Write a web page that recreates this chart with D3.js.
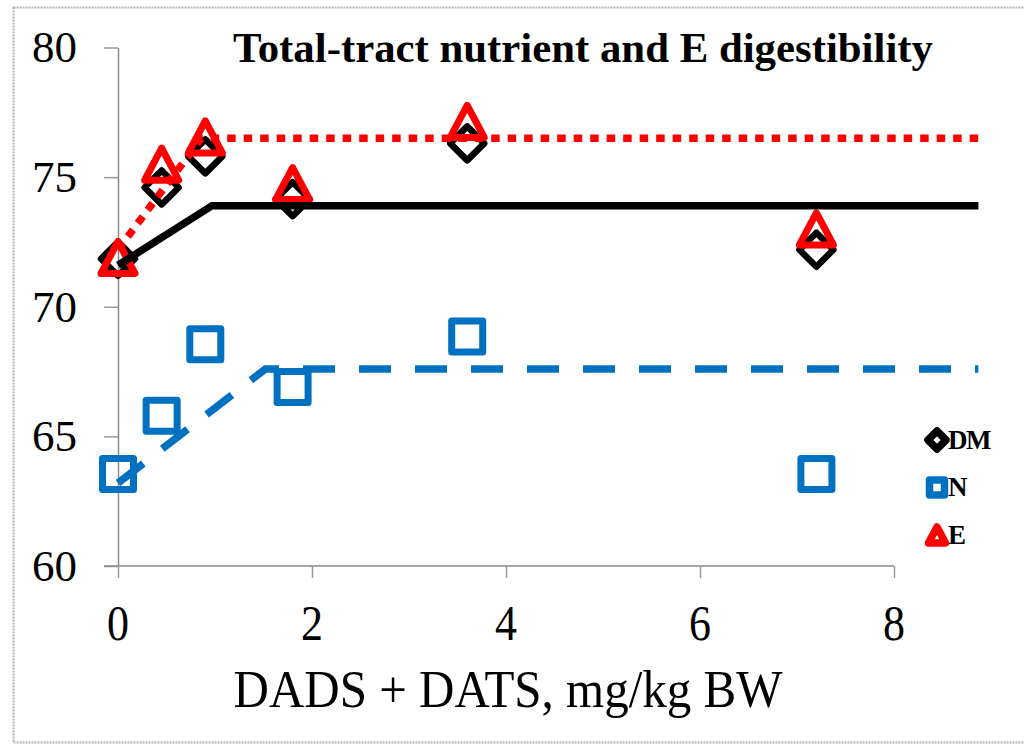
<!DOCTYPE html>
<html>
<head>
<meta charset="utf-8">
<script src="https://cdn.jsdelivr.net/npm/d3@7/dist/d3.min.js"></script>
<style>
  html, body { margin: 0; padding: 0; background: #fff; }
  svg { display: block; }
  text { font-family: "Liberation Serif", "Times New Roman", serif; fill: #000; }
</style>
</head>
<body>
<svg id="chart" width="1024" height="744"></svg>
<script>
// Dose of DADS + DATS (mg/kg BW)
const doses = [0, 0.45, 0.9, 1.8, 3.6, 7.2];
// Apparent total-tract digestibility, %
const dmValues = [71.85, 74.6, 75.8, 74.15, 76.3, 72.2];
const nValues  = [63.55, 65.8, 68.55, 66.9, 68.85, 63.55];
const eValues  = [71.9, 75.5, 76.55, 74.75, 77.15, 73.0];

// Broken-line fits: [dose, value] at start, breakpoint, end
const dmFit = [[0, 71.6], [0.97, 73.9], [8.87, 73.9]];
const nFit  = [[0, 63.2], [1.52, 67.6], [8.87, 67.6]];
const eFit  = [[0, 72.2], [0.86, 76.5], [8.87, 76.5]];

const xTicks = [0, 2, 4, 6, 8];
const yTicks = [60, 65, 70, 75, 80];

const legendItems = ["DM", "N", "E"];

const BLUE = "#0070C0", RED = "#FF0000", BLACK = "#000000";

const svg = d3.select("#chart");

// outer dotted frame
svg.append("rect")
  .attr("x", 13.5).attr("y", 7.5).attr("width", 1030).attr("height", 735)
  .attr("fill", "none").attr("stroke", "#b5b5b5").attr("stroke-width", 2)
  .attr("stroke-dasharray", "2,1");

const x = d3.scaleLinear().domain([0, 8]).range([118, 894]);
const y = d3.scaleLinear().domain([60, 80]).range([566, 47.5]);

// y axis
const yAxis = svg.append("g")
  .attr("transform", `translate(${x(0)},0)`)
  .call(d3.axisLeft(y).tickValues(yTicks).tickSize(14).tickPadding(27).tickSizeOuter(0));
yAxis.select(".domain").attr("stroke", "#8a8a8a").attr("stroke-width", 1.5);
yAxis.selectAll(".tick line").attr("stroke", "#9a9a9a").attr("stroke-width", 1.5);
yAxis.selectAll(".tick text")
  .style("font-family", "'Liberation Serif', serif")
  .style("font-size", "45px").attr("fill", "#000");

// x axis
const xAxis = svg.append("g")
  .attr("transform", `translate(0,${y(60)})`)
  .call(d3.axisBottom(x).tickValues(xTicks).tickSize(12).tickFormat("").tickSizeOuter(0));
xAxis.select(".domain").attr("stroke", "#8a8a8a").attr("stroke-width", 1.5)
  .attr("d", `M${x(0) - 14},0H${x(8)}`);
xAxis.selectAll(".tick line").attr("stroke", "#9a9a9a").attr("stroke-width", 1.5);

// x tick labels (slightly tall serif digits)
svg.append("g").selectAll("g")
  .data(xTicks).join("g")
  .attr("transform", d => `translate(${x(d)},640) scale(1,1.17)`)
  .append("text")
  .attr("text-anchor", "middle")
  .style("font-size", "44px")
  .text(d => d);

// axis title
svg.append("g")
  .attr("transform", "translate(508,707) scale(1,1.06)")
  .append("text")
  .attr("text-anchor", "middle")
  .style("font-size", "49px")
  .text("DADS + DATS, mg/kg BW");

// chart title
svg.append("text")
  .attr("x", 583).attr("y", 62)
  .attr("text-anchor", "middle")
  .style("font-size", "42.8px").style("font-weight", "bold")
  .text("Total-tract nutrient and E digestibility");

// marker shapes
const diamondPath = h => `M0,${-h}L${h},0L0,${h}L${-h},0Z`;
const squarePath = s => `M${-s},${-s}H${s}V${s}H${-s}Z`;
const trianglePath = (w, h) => `M0,${-h}L${w},${h}L${-w},${h}Z`;

const plot = svg.append("g");

function markers(values, path, color, sw) {
  plot.append("g").selectAll("path")
    .data(doses.map((d, i) => [d, values[i]]))
    .join("path")
    .attr("transform", d => `translate(${x(d[0])},${y(d[1])})`)
    .attr("d", path)
    .attr("fill", "none")
    .attr("stroke", color)
    .attr("stroke-width", sw)
    .attr("stroke-linejoin", "round");
}

markers(dmValues, diamondPath(17), BLACK, 6.5);
markers(nValues, squarePath(15.5), BLUE, 7);
markers(eValues, trianglePath(17, 16), RED, 7);

// fitted lines
const line = d3.line().x(d => x(d[0])).y(d => y(d[1]));
plot.append("path").attr("d", line(dmFit))
  .attr("fill", "none").attr("stroke", BLACK).attr("stroke-width", 7.5);
plot.append("path").attr("d", line(nFit))
  .attr("fill", "none").attr("stroke", BLUE).attr("stroke-width", 7.5)
  .attr("stroke-dasharray", "32,24");
plot.append("path").attr("d", line(eFit))
  .attr("fill", "none").attr("stroke", RED).attr("stroke-width", 7.5)
  .attr("stroke-dasharray", "8.5,8");

// legend
const legendShapes = [
  { path: diamondPath(9), color: BLACK, sw: 7.5 },
  { path: squarePath(7.5), color: BLUE, sw: 7.5 },
  { path: trianglePath(8.5, 8), color: RED, sw: 7.5 }
];
const legend = svg.append("g");
const lg = legend.selectAll("g")
  .data(legendItems).join("g")
  .attr("transform", (d, i) => `translate(937,${440 + i * 47.5})`);
lg.append("path")
  .attr("d", (d, i) => legendShapes[i].path)
  .attr("fill", "none")
  .attr("stroke", (d, i) => legendShapes[i].color)
  .attr("stroke-width", (d, i) => legendShapes[i].sw)
  .attr("stroke-linejoin", "round");
lg.append("text")
  .attr("x", 11).attr("y", 8.5)
  .style("font-size", "27px").style("font-weight", "bold")
  .style("letter-spacing", "-1.5px")
  .text(d => d);
</script>
</body>
</html>
